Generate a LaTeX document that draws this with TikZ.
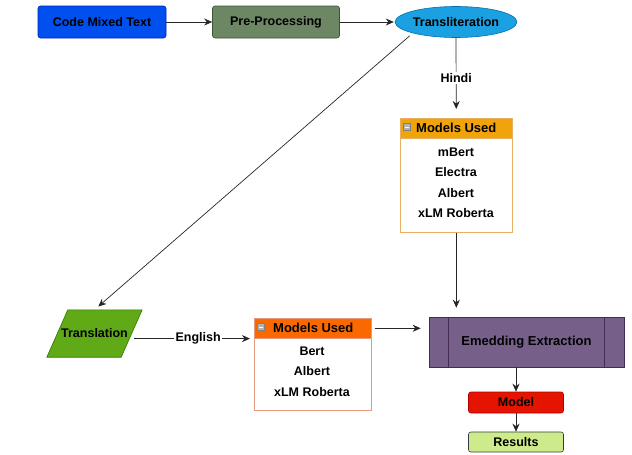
\documentclass[tikz,border=0pt]{standalone}
\usepackage{fontspec}
\setmainfont{Liberation Sans}
\usetikzlibrary{shapes.geometric,arrows.meta,positioning}
\definecolor{cblue}{HTML}{0050EF}\definecolor{cblueD}{HTML}{001DBC}
\definecolor{cgreen}{HTML}{6D8764}\definecolor{cgreenD}{HTML}{3A5431}
\definecolor{ccyan}{HTML}{1BA1E2}\definecolor{ccyanD}{HTML}{006EAF}
\definecolor{camber}{HTML}{F0A30A}\definecolor{camberD}{HTML}{BD7000}\definecolor{camberL}{HTML}{E8B060}
\definecolor{corange}{HTML}{FA6800}\definecolor{corangeD}{HTML}{C73500}\definecolor{corangeL}{HTML}{E89A80}
\definecolor{cviolet}{HTML}{76608A}\definecolor{cvioletD}{HTML}{432D57}
\definecolor{cred}{HTML}{E51400}\definecolor{credD}{HTML}{B20000}
\definecolor{clime}{HTML}{CDEB8B}\definecolor{climeD}{HTML}{36393D}
\definecolor{cleaf}{HTML}{60A917}\definecolor{cleafD}{HTML}{2D7600}
\begin{document}
\begin{tikzpicture}[x=1pt,y=-1pt,
  every node/.style={font=\bfseries\fontsize{12.5}{14}\selectfont, text=black, inner sep=0pt},
  proc/.style={draw, rounded corners=2.5pt, line width=0.6pt, minimum width=128pt, minimum height=32pt},
  hdr/.style={draw, line width=0.6pt, minimum width=#1, minimum height=20pt, anchor=north west},
  bodybox/.style={draw, line width=0.6pt, fill=white, anchor=north west},
  item/.style={},
  arr/.style={-{Stealth[length=8pt,width=7pt]}, line width=0.7pt, black!85},
  lbl/.style={fill=white, inner sep=1.5pt}]
\useasboundingbox (0,0) rectangle (632,455);

% top row
\node[proc, fill=cblue, draw=cblueD] (cmt) at (102,22) {Code Mixed Text};
\node[proc, fill=cgreen, draw=cgreenD, minimum width=127pt] (pre) at (276,22) {Pre-Processing};
\node[ellipse, draw=ccyanD, fill=ccyan, line width=0.6pt, minimum width=120pt, minimum height=31pt] (tr) at (456,22) {Transliteration};

% Models used (Hindi)
\node[bodybox, draw=camberL, minimum width=112pt, minimum height=114pt] (m1b) at (400,118) {};
\node[hdr=112pt, fill=camber, draw=camberL] (m1h) at (400,118) {};
\node[anchor=west] at (416,128) {\fontsize{13}{14}\selectfont Models Used};
\draw[fill=black!30, draw=black!50, line width=0.3pt] (403.5,123.5) rectangle (410.5,130.5);
\draw[white, line width=0.8pt] (405,127) -- (409,127);
\node[item] (m1a) at (456,152) {mBert};
\node[item] (m1e) at (456,172) {Electra};
\node[item] (m1c) at (456,193) {Albert};
\node[item] (m1d) at (456,213) {xLM Roberta};

% Translation (parallelogram)
\node[minimum width=95pt, minimum height=47pt] (trans) at (94.5,333.5) {};
\filldraw[draw=cleafD, fill=cleaf, line width=0.6pt]
  ([xshift=21pt]trans.north west) -- (trans.north east) -- ([xshift=-21pt]trans.south east) -- (trans.south west) -- cycle;
\node at (trans) {Translation};

% Models used (English)
\node[bodybox, draw=corangeL, minimum width=117pt, minimum height=92pt] (m2b) at (254,318) {};
\node[hdr=117pt, fill=corange, draw=corangeL] (m2h) at (254,318) {};
\node[anchor=west] at (273,328) {\fontsize{13}{14}\selectfont Models Used};
\draw[fill=black!30, draw=black!50, line width=0.3pt] (257.5,323.5) rectangle (264.5,330.5);
\draw[white, line width=0.8pt] (259,327) -- (263,327);
\node[item] (m2a) at (312,351) {Bert};
\node[item] (m2c) at (312,371) {Albert};
\node[item] (m2d) at (312,392) {xLM Roberta};

% Emedding extraction
\node[draw=cvioletD, fill=cviolet, line width=0.6pt, minimum width=195pt, minimum height=50pt] (emb) at (526.5,342) {};
\node at (526.5,342) {\fontsize{13}{14}\selectfont Emedding Extraction};
\draw[cvioletD, line width=0.6pt] ([xshift=20pt]emb.north west) -- ([xshift=20pt]emb.south west);
\draw[cvioletD, line width=0.6pt] ([xshift=-20pt]emb.north east) -- ([xshift=-20pt]emb.south east);

% Model and results
\node[draw=credD, fill=cred, rounded corners=2.5pt, line width=0.6pt, minimum width=95pt, minimum height=21pt] (mod) at (516,402.5) {Model};
\node[draw=climeD, fill=clime, rounded corners=2.5pt, line width=0.6pt, minimum width=95pt, minimum height=20pt] (res) at (516,442) {Results};

% connectors
\draw[arr] (cmt) -- (pre);
\draw[arr, shorten >=1pt] (pre) -- (tr);
\draw[arr, shorten >=9pt] (tr.south) -- node[lbl] {Hindi} (m1h.north);
\draw[arr, shorten >=9pt] (m1b.south) -- (m1b.south |- emb.north);
\draw[arr, shorten <=4pt, shorten >=5pt] (tr.south west) -- (trans.north);
\draw[arr, shorten <=-8pt, shorten >=4pt] (trans.east |- m2h.south west) -- node[lbl] {English} (m2h.south west);
\draw[arr, shorten <=3pt, shorten >=8pt] (m2h.east) -- (emb.west |- m2h.east);
\draw[arr] (emb.south -| mod.north) -- (mod.north);
\draw[arr] (mod) -- (res);
\end{tikzpicture}
\end{document}
